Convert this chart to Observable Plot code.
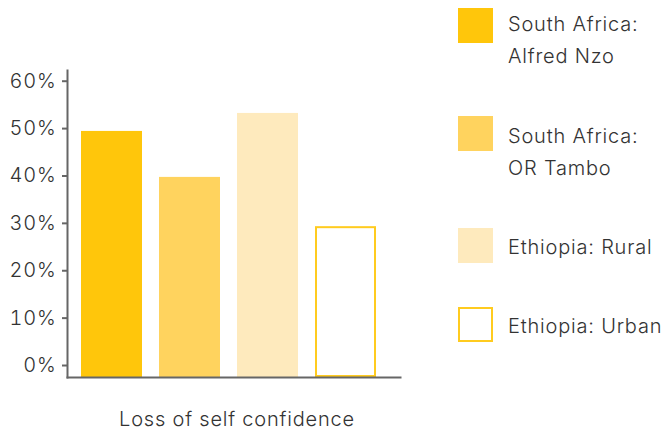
<!DOCTYPE html>
<html><head><meta charset="utf-8">
<script src="https://cdn.jsdelivr.net/npm/d3@7"></script>
<script src="https://cdn.jsdelivr.net/npm/@observablehq/plot@0.6"></script>
<style>
body{margin:0;background:#fff;font-family:Inter, sans-serif;}
#wrap{position:relative;width:670px;height:430px;}
.sw{position:absolute;left:458px;width:35px;height:35px;box-sizing:border-box;}
.lt{position:absolute;left:508px;font-size:20px;line-height:32px;color:#333;white-space:nowrap;letter-spacing:0.8px;font-weight:350;}
svg text{letter-spacing:0.8px;font-weight:350;}
</style></head><body><div id="wrap"></div>
<script>
const category = "Loss of self confidence";
const series = ["South Africa: Alfred Nzo", "South Africa: OR Tambo", "Ethiopia: Rural", "Ethiopia: Urban"];
const legendLines = [["South Africa:", "Alfred Nzo"], ["South Africa:", "OR Tambo"], ["Ethiopia: Rural"], ["Ethiopia: Urban"]];
const values = [0.494, 0.397, 0.532, 0.293];
const fills = ["#FFC60B", "#FFD35E", "#FEEABD", "#FFFFFF"];
const strokes = ["#FFC60B", "#FFD35E", "#FEEABD", "#FFCB1F"];
const yTicks = [0, 0.1, 0.2, 0.3, 0.4, 0.5, 0.6];

const data = series.map((s, i) => ({category, series: s, value: values[i], fill: fills[i], stroke: strokes[i]}));

const chart = Plot.plot({
  width: 670,
  height: 430,
  marginLeft: 67,
  marginRight: 270,
  marginTop: 70,
  marginBottom: 53,
  style: {fontFamily: "Inter, sans-serif", color: "#333", background: "transparent"},
  fx: {domain: [category], padding: 0},
  x: {domain: series, paddingInner: 0.22, paddingOuter: 0.24, align: 0.37, axis: null},
  y: {domain: [-0.0253, 0.6226], axis: null},
  marks: [
    Plot.barY(data, {fx: "category", x: "series", y: "value", fill: "fill", stroke: "stroke", strokeWidth: 2, inset: 1, insetBottom: -11}),
    Plot.frame({anchor: "left", stroke: "#666", strokeWidth: 2}),
    Plot.frame({anchor: "bottom", stroke: "#666", strokeWidth: 2}),
    Plot.axisY({ticks: yTicks, tickFormat: d3.format(".0%"), tickSize: 5, tickPadding: 6, fontSize: 20, label: null, stroke: "#666", strokeWidth: 2}),
    Plot.axisFx({anchor: "bottom", tickSize: 0, tickPadding: 34, fontSize: 20, label: null, dx: 3})
  ]
});
const wrap = document.getElementById("wrap");
wrap.appendChild(chart);

const swTops = [8, 116, 228, 307];
const txTops = [8, 120, 231, 310];
series.forEach((s, i) => {
  const sw = document.createElement("div");
  sw.className = "sw";
  sw.style.top = swTops[i] + "px";
  sw.style.background = fills[i];
  if (fills[i] === "#FFFFFF") sw.style.border = "2px solid " + strokes[i];
  wrap.appendChild(sw);
  const t = document.createElement("div");
  t.className = "lt";
  t.style.top = txTops[i] + "px";
  t.innerHTML = legendLines[i].join("<br>");
  wrap.appendChild(t);
});
</script>
</body></html>
